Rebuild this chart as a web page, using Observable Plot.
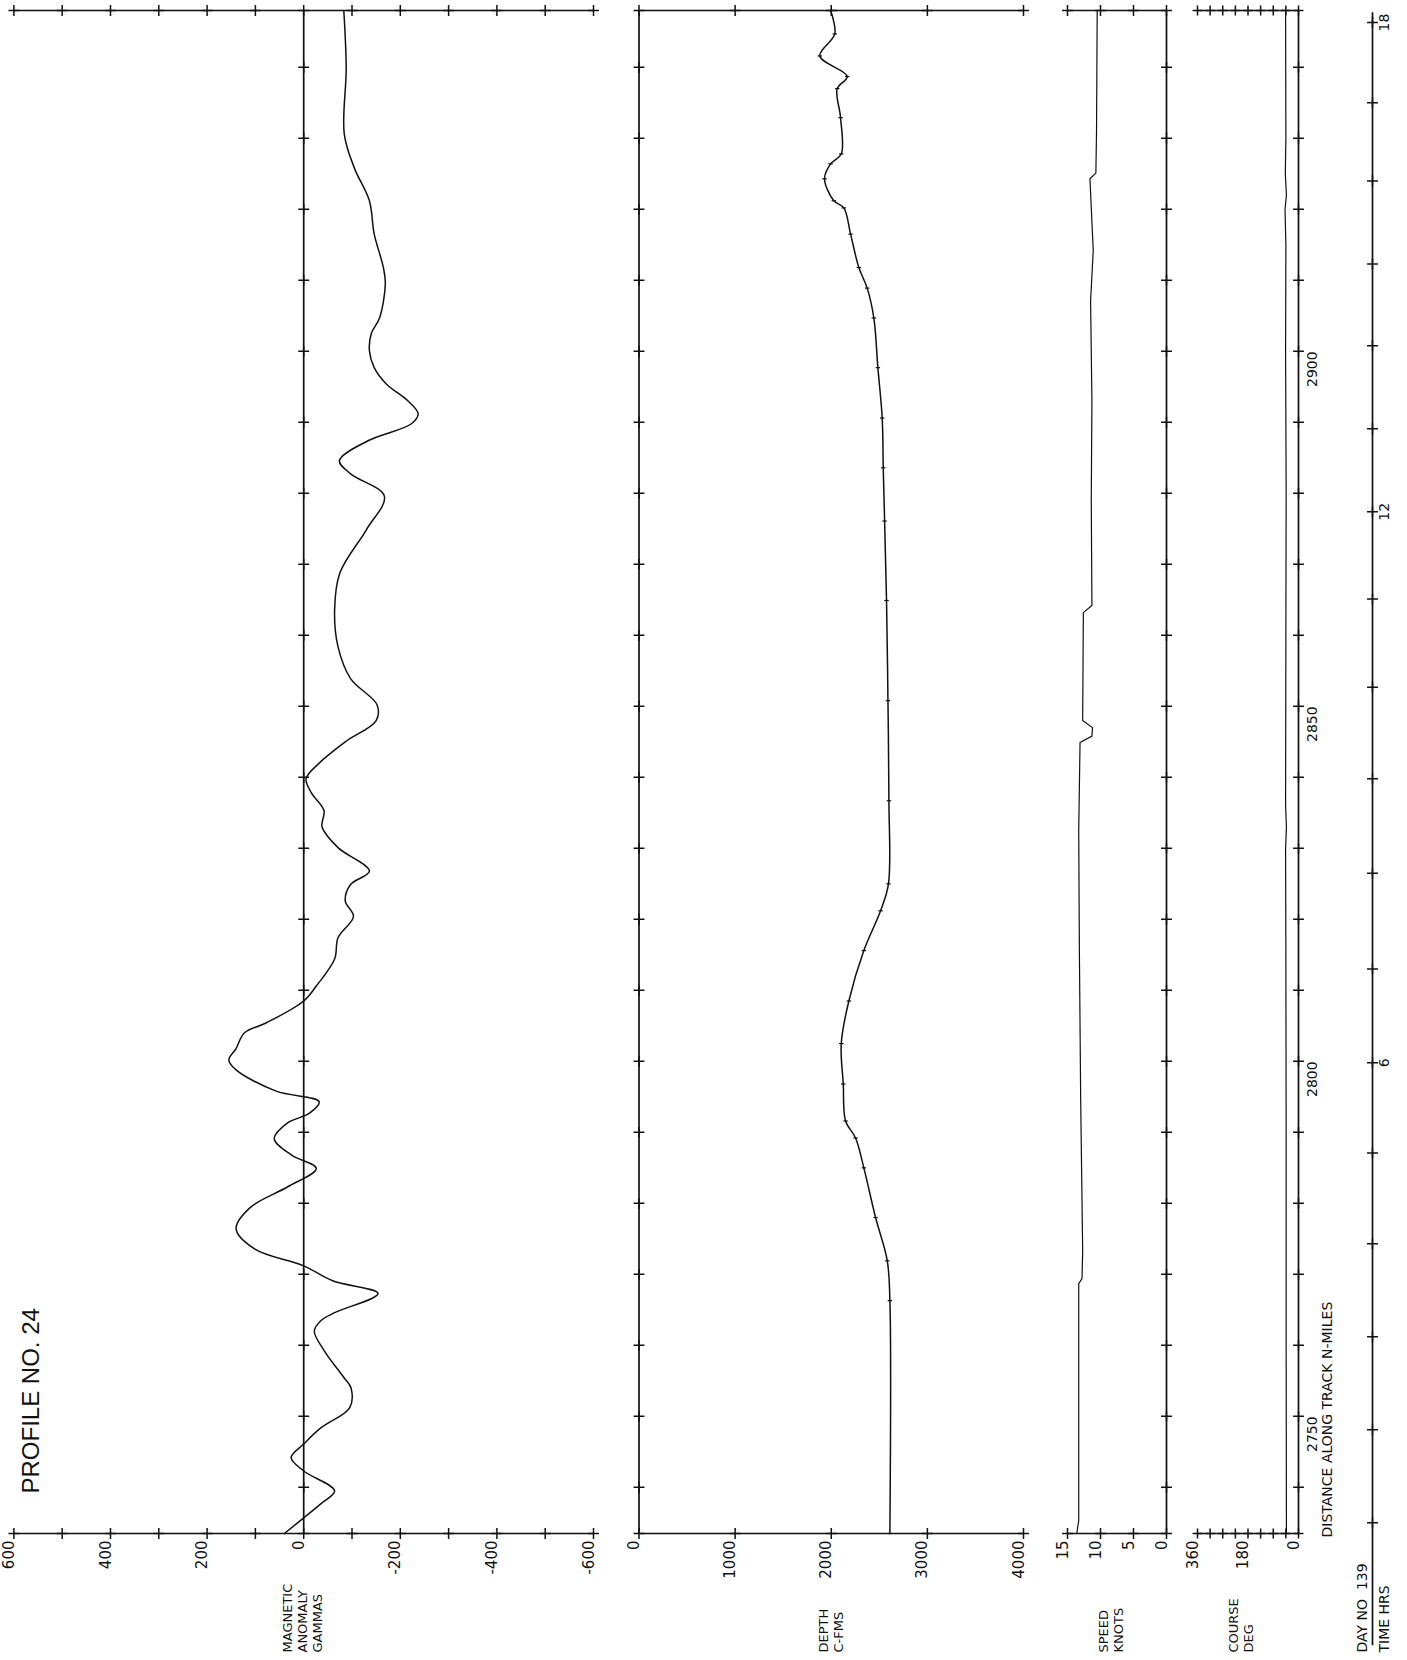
<!DOCTYPE html>
<html>
<head>
<meta charset="utf-8">
<script src="https://cdn.jsdelivr.net/npm/d3@7"></script>
<script src="https://cdn.jsdelivr.net/npm/@observablehq/plot@0.6"></script>
<style>
html, body { margin: 0; padding: 0; background: #fff; }
#chart { position: relative; width: 1407px; height: 1660px; overflow: hidden; background: #fff; }
#chart svg { position: absolute; left: 0; top: 0; }
</style>
</head>
<body>
<div id="chart"></div>
<script>
// ---------- data (distance along track, n-miles) ----------
const distRange = [2733.5, 2948.0];
const distTicks = [2740, 2750, 2760, 2770, 2780, 2790, 2800, 2810, 2820, 2830, 2840, 2850, 2860, 2870, 2880, 2890, 2900, 2910, 2920, 2930, 2940];
const distLabels = [2750, 2800, 2850, 2900];

// magnetic anomaly (gammas)
const magTicks = [-600, -500, -400, -300, -200, -100, 0, 100, 200, 300, 400, 500, 600];
const magLabels = [600, 400, 200, 0, -200, -400, -600];
const magDist = [2733.5, 2735.7, 2737.7, 2739.5, 2742.3, 2744.2, 2746.1, 2748.4, 2751.2, 2754.0, 2755.4, 2759.2, 2762.0, 2763.5, 2764.6, 2767.3, 2769.1, 2771.2, 2773.5, 2776.4, 2779.4, 2782.3, 2784.9, 2786.8, 2789.1, 2791.3, 2792.7, 2794.3, 2795.8, 2798.8, 2800.2, 2801.8, 2804.0, 2805.4, 2808.5, 2810.6, 2814.4, 2817.4, 2820.4, 2822.6, 2824.9, 2826.8, 2830.1, 2833.0, 2835.3, 2837.8, 2839.8, 2842.0, 2845.0, 2848.0, 2850.2, 2853.9, 2858.4, 2863.6, 2868.8, 2874.9, 2879.6, 2882.7, 2884.6, 2887.4, 2889.8, 2891.2, 2893.0, 2895.4, 2897.7, 2900.1, 2902.5, 2904.7, 2909.5, 2911.8, 2916.5, 2921.2, 2925.8, 2930.6, 2939.9, 2948.0];
const magValue = [40, 0, -36, -64, 0, 26, 0, -36, -95, -98, -84, -43, -22, -36, -64, -154, -60, 0, 100, 140, 111, 34, -26, 25, 61, 34, -12, -32, 57, 140, 155, 140, 123, 78, 0, -26, -64, -71, -103, -86, -97, -136, -71, -38, -42, -16, -5, -32, -86, -150, -152, -97, -71, -64, -75, -130, -167, -98, -74, -133, -223, -237, -216, -171, -146, -136, -140, -157, -169, -165, -146, -136, -105, -84, -88, -83];

// depth (corrected fathoms)
const depthTicks = [0, 1000, 2000, 3000, 4000];
const depthLabels = [0, 1000, 2000, 3000, 4000];
const depthDist = [2733.5, 2766.3, 2771.9, 2778.0, 2785.0, 2789.2, 2791.6, 2796.8, 2802.5, 2808.5, 2815.6, 2821.2, 2825.0, 2836.7, 2850.8, 2864.9, 2876.1, 2883.6, 2890.6, 2897.7, 2904.7, 2908.9, 2911.8, 2916.5, 2920.2, 2921.2, 2924.3, 2926.4, 2927.8, 2932.9, 2937.0, 2938.7, 2941.6, 2944.7, 2948.0];
const depthValue = [2610, 2610, 2583, 2461, 2339, 2253, 2149, 2125, 2104, 2183, 2339, 2513, 2595, 2600, 2590, 2575, 2555, 2541, 2530, 2485, 2443, 2374, 2287, 2201, 2131, 2027, 1930, 1993, 2104, 2097, 2062, 2166, 1881, 2037, 1993];

// speed (knots)
const speedTicks = [15, 10, 5, 0];
const speedLabels = [15, 10, 5, 0];
const speedDist = [2733.5, 2735.3, 2768.7, 2769.4, 2773.3, 2794.4, 2815.6, 2832.5, 2844.9, 2845.8, 2847.0, 2848.0, 2863.2, 2864.2, 2878.9, 2893.0, 2907.1, 2914.2, 2924.3, 2925.1, 2931.1, 2948.0];
const speedValue = [13.6, 13.3, 13.3, 12.8, 12.7, 13.0, 13.2, 13.3, 13.1, 11.3, 11.2, 12.7, 12.6, 11.3, 11.4, 11.3, 11.5, 11.1, 11.6, 10.7, 10.6, 10.5];

// course (degrees)
const courseTicks = [0, 45, 90, 135, 180, 225, 270, 315, 360];
const courseLabels = [360, 180, 0];
const courseDist = [2733.5, 2760, 2790, 2815, 2830, 2833, 2836, 2860, 2880, 2900, 2915, 2920, 2922, 2925, 2930, 2948];
const courseValue = [43, 44, 44, 45, 46, 43, 46, 45, 44, 46, 45, 48, 43, 47, 45, 46];

// time (hours, day 139) -> distance
const hours = [1, 2, 3, 4, 5, 6, 7, 8, 9, 10, 11, 12, 13, 14, 15, 16, 17, 18];
const hourDist = [2735.0, 2748.1, 2761.2, 2774.3, 2787.1, 2799.8, 2813.0, 2826.5, 2839.8, 2852.7, 2865.1, 2877.4, 2889.1, 2900.8, 2912.3, 2924.0, 2935.0, 2946.3];
const hourLabels = [6, 12, 18];
const timeAxisEnds = [2717.7, 2947.7]; // axis runs down past the panels to form the DAY/TIME fraction bar

// ---------- layout ----------
const W = 1407, H = 1660, TOP = 10, BOTTOM = 1533;
const INK = "#111";
const FONT = "DejaVu Sans, Liberation Sans, sans-serif";

function panel(x0, x1, xDomain, marks) {
  return Plot.plot({
    width: W, height: H,
    marginTop: TOP, marginBottom: H - BOTTOM,
    marginLeft: x0, marginRight: W - x1,
    x: {domain: xDomain, axis: null},
    y: {domain: distRange, axis: null},
    style: {background: "transparent", overflow: "visible", fontFamily: FONT, color: INK},
    marks
  });
}
// short horizontal dash symbol for the sounding marks
const dash = {draw(ctx, size) { const r = Math.sqrt(size) / 2; ctx.moveTo(-r, 0); ctx.lineTo(r, 0); }};
const cross = (data, opts) => Plot.dot(data, {symbol: "plus", r: 3.6, stroke: INK, strokeWidth: 1.5, fill: "none", ...opts});
const frameLines = () => Plot.ruleY(distRange, {stroke: INK, strokeWidth: 1.7});
const bottomLabels = (data, size = 15) => Plot.text(data, {x: d => d, text: d => String(d), frameAnchor: "bottom", dy: 7, rotate: -90, textAnchor: "end", fontSize: size, fill: INK});
const tbl = (D, V) => D.map((d, i) => ({d, v: V[i]}));

const chart = document.getElementById("chart");

// magnetic anomaly
chart.append(panel(13.4, 593, [600, -600], [
  frameLines(),
  Plot.ruleX([0], {stroke: INK, strokeWidth: 1.7}),
  cross(magTicks, {x: d => d, y: () => distRange[0]}),
  cross(magTicks, {x: d => d, y: () => distRange[1]}),
  cross(distTicks, {x: () => 0, y: d => d}),
  Plot.line(tbl(magDist, magValue), {x: "v", y: "d", curve: "catmull-rom", stroke: INK, strokeWidth: 1.5}),
  bottomLabels(magLabels),
  Plot.text(["MAGNETIC\nANOMALY\nGAMMAS"], {x: () => 0, frameAnchor: "bottom", dx: 18, dy: 119, rotate: -90, textAnchor: "start", lineHeight: 1.15, fontSize: 13, fill: INK}),
  Plot.text(["PROFILE NO. 24"], {frameAnchor: "bottom-left", dx: 25, dy: -40, rotate: -90, textAnchor: "start", fontSize: 24, fontFamily: "Liberation Sans, sans-serif", fill: INK})
]));

// depth
chart.append(panel(638.5, 1023, [0, 4000], [
  frameLines(),
  Plot.ruleX([0], {stroke: INK, strokeWidth: 1.7}),
  cross(depthTicks, {x: d => d, y: () => distRange[0]}),
  cross(depthTicks, {x: d => d, y: () => distRange[1]}),
  cross(distTicks, {x: () => 0, y: d => d}),
  Plot.line(tbl(depthDist, depthValue), {x: "v", y: "d", curve: "catmull-rom", stroke: INK, strokeWidth: 1.5}),
  Plot.dot(tbl(depthDist, depthValue), {x: "v", y: "d", symbol: dash, r: 2.5, stroke: INK, strokeWidth: 1.2, fill: "none"}),
  bottomLabels(depthLabels),
  Plot.text(["DEPTH\nC-FMS"], {frameAnchor: "bottom-left", dx: 204, dy: 119, rotate: -90, textAnchor: "start", lineHeight: 1.15, fontSize: 13, fill: INK})
]));

// speed
chart.append(panel(1067, 1166, [15, 0], [
  frameLines(),
  Plot.ruleX([0], {stroke: INK, strokeWidth: 1.7}),
  cross(speedTicks, {x: d => d, y: () => distRange[0]}),
  cross(speedTicks, {x: d => d, y: () => distRange[1]}),
  cross(distTicks, {x: () => 0, y: d => d}),
  Plot.line(tbl(speedDist, speedValue), {x: "v", y: "d", stroke: INK, strokeWidth: 1.2}),
  bottomLabels(speedLabels),
  Plot.text(["SPEED\nKNOTS"], {frameAnchor: "bottom-left", dx: 55, dy: 119, rotate: -90, textAnchor: "start", lineHeight: 1.15, fontSize: 13, fill: INK})
]));

// course
chart.append(panel(1197, 1298, [360, 0], [
  frameLines(),
  Plot.ruleX([0], {stroke: INK, strokeWidth: 1.7}),
  cross(courseTicks, {x: d => d, y: () => distRange[0], r: 3.3}),
  cross(courseTicks, {x: d => d, y: () => distRange[1], r: 3.3}),
  cross(distTicks, {x: () => 0, y: d => d}),
  Plot.line(tbl(courseDist, courseValue), {x: "v", y: "d", stroke: INK, strokeWidth: 1.2}),
  bottomLabels(courseLabels),
  Plot.text(["COURSE\nDEG"], {frameAnchor: "bottom-left", dx: 55, dy: 119, rotate: -90, textAnchor: "start", lineHeight: 1.15, fontSize: 13, fill: INK}),
  Plot.text(distLabels, {y: d => d, text: d => String(d), frameAnchor: "right", dx: 14, rotate: -90, fontSize: 14, fill: INK}),
  Plot.text(["DISTANCE ALONG TRACK N-MILES"], {frameAnchor: "bottom-right", dx: 33, dy: 4, rotate: -90, textAnchor: "start", fontSize: 14, fill: INK})
]));

// time axis
chart.append(panel(1372, 1392, [0, 1], [
  Plot.ruleX([0], {y1: () => timeAxisEnds[0], y2: () => timeAxisEnds[1], stroke: INK, strokeWidth: 1.7}),
  cross(hourDist, {x: () => 0, y: d => d}),
  Plot.text(hourLabels, {x: () => 0, y: h => hourDist[h - 1], text: d => String(d), dx: 12, rotate: -90, fontSize: 14, fill: INK}),
  Plot.text(["DAY NO  139"], {x: () => 0, frameAnchor: "bottom", dx: -6, dy: 119, rotate: -90, textAnchor: "start", fontSize: 14, fill: INK}),
  Plot.text(["TIME HRS"], {x: () => 0, frameAnchor: "bottom", dx: 16, dy: 119, rotate: -90, textAnchor: "start", fontSize: 14, fill: INK})
]));
</script>
</body>
</html>
